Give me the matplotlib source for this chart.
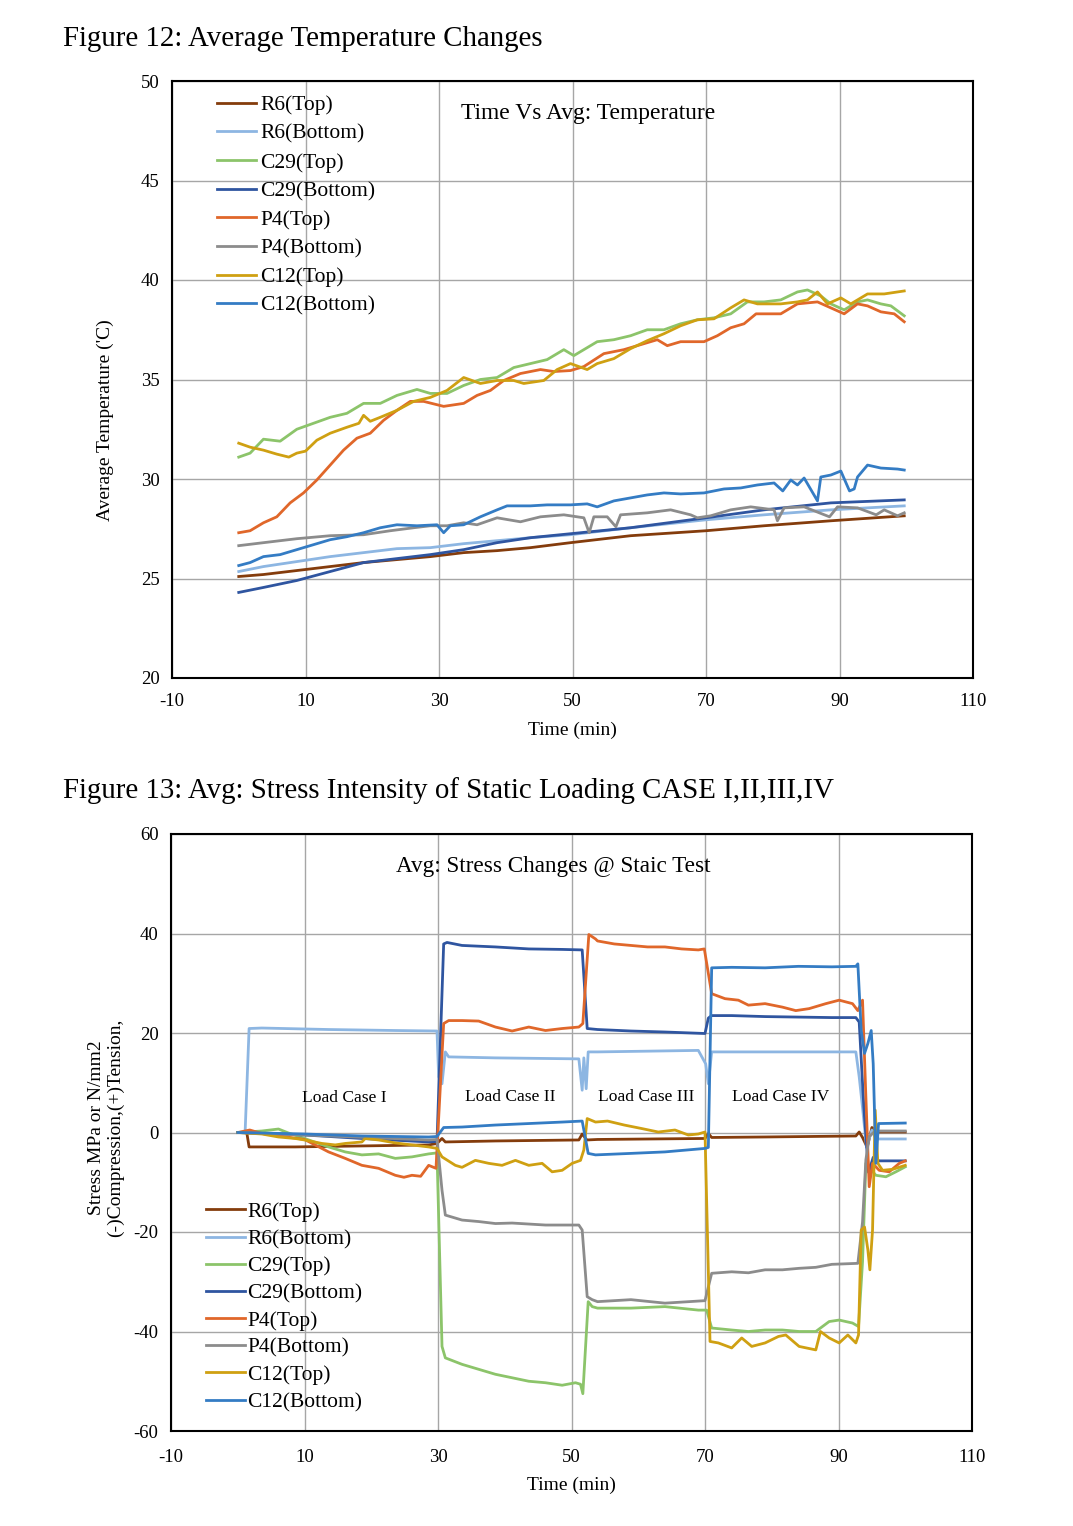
import matplotlib
matplotlib.use("Agg")
import matplotlib.pyplot as plt

plt.rcParams['font.family'] = ['Liberation Serif', 'DejaVu Serif']
plt.rcParams['axes.unicode_minus'] = False

series_names = ["R6(Top)", "R6(Bottom)", "C29(Top)", "C29(Bottom)",
                "P4(Top)", "P4(Bottom)", "C12(Top)", "C12(Bottom)"]
series_colors = ["#843C0C", "#8DB6E2", "#8CC46A", "#2F55A0",
                 "#E0672A", "#8C8C8C", "#CFA012", "#347CC4"]

# ---------------- Figure 12: temperature ----------------
t_r6_top = [0, 3.7, 8.7, 13.7, 18.7, 23.7, 28.7, 33.7, 38.7, 43.7, 49.7, 58.7, 70, 78.7, 88.7, 99.7]
v_r6_top = [25.1, 25.2, 25.4, 25.6, 25.8, 25.95, 26.1, 26.3, 26.4, 26.55, 26.8, 27.15, 27.4, 27.65, 27.9, 28.15]

t_r6_bot = [0, 3.7, 8.7, 13.7, 18.7, 23.7, 28.7, 33.7, 38.7, 43.7, 49.7, 58.7, 70, 78.7, 88.7, 99.7]
v_r6_bot = [25.35, 25.6, 25.85, 26.1, 26.3, 26.5, 26.55, 26.75, 26.9, 27.05, 27.2, 27.55, 27.95, 28.2, 28.45, 28.65]

t_c29_top = [0, 1.7, 3.7, 6.2, 8.7, 11.2, 13.7, 16.2, 18.7, 21.2, 23.7, 26.7, 28.7, 31.2, 33.7,
             36.2, 38.7, 41.2, 43.7, 46.2, 48.7, 50.2, 53.7, 56.2, 58.7, 61.2, 63.7, 66.2, 68.7,
             71.2, 73.7, 76.2, 78.7, 81.2, 83.7, 85.2, 87.2, 88.7, 90.7, 92.7, 94.2, 96.2, 97.7, 99.7]
v_c29_top = [31.1, 31.3, 32.0, 31.9, 32.5, 32.8, 33.1, 33.3, 33.8, 33.8, 34.2, 34.5, 34.3, 34.3, 34.7,
             35.0, 35.1, 35.6, 35.8, 36.0, 36.5, 36.2, 36.9, 37.0, 37.2, 37.5, 37.5, 37.8, 38.0,
             38.1, 38.3, 38.9, 38.9, 39.0, 39.4, 39.5, 39.2, 38.8, 38.5, 38.9, 39.0, 38.8, 38.7, 38.2]

t_c29_bot = [0, 3.7, 8.7, 13.7, 18.7, 23.7, 28.7, 33.7, 38.7, 43.7, 49.7, 58.7, 70, 78.7, 88.7, 99.7]
v_c29_bot = [24.3, 24.55, 24.9, 25.35, 25.8, 26.0, 26.2, 26.45, 26.8, 27.05, 27.25, 27.55, 28.05, 28.45, 28.8, 28.95]

t_p4_top = [0, 1.7, 3.7, 5.7, 7.7, 9.7, 11.7, 13.7, 15.7, 17.7, 19.7, 21.7, 23.7, 25.7, 27.7, 30.7,
            33.7, 35.7, 37.7, 39.7, 42.2, 45.2, 47.2, 49.7, 51.7, 54.7, 57.7, 59.7, 62.7, 64.2, 66.2,
            69.7, 71.7, 73.7, 75.7, 77.5, 81.2, 83.7, 86.7, 88.7, 90.7, 92.7, 94.2, 96.2, 98.2, 99.7]
v_p4_top = [27.3, 27.4, 27.8, 28.1, 28.8, 29.3, 29.95, 30.7, 31.45, 32.05, 32.3, 32.95, 33.45, 33.9, 33.9, 33.65,
            33.8, 34.2, 34.45, 34.95, 35.3, 35.5, 35.4, 35.45, 35.65, 36.3, 36.5, 36.7, 37.0, 36.7, 36.9,
            36.9, 37.2, 37.6, 37.8, 38.3, 38.3, 38.8, 38.9, 38.6, 38.3, 38.8, 38.7, 38.4, 38.3, 37.9]

t_p4_bot = [0, 3.7, 8.7, 13.7, 18.7, 22.7, 26.2, 28.7, 31.2, 33.7, 35.7, 38.7, 42.2, 45.2, 48.7,
            51.7, 52.5, 53.2, 55.2, 56.5, 57.2, 61.2, 64.7, 67.7, 68.7, 70.7, 73.7, 76.7, 80.2, 80.7,
            81.7, 84.7, 88.5, 89.7, 92.7, 95.5, 96.7, 98.7, 99.7]
v_p4_bot = [26.65, 26.8, 27.0, 27.15, 27.2, 27.4, 27.55, 27.65, 27.65, 27.8, 27.7, 28.05, 27.85, 28.1, 28.2,
            28.05, 27.3, 28.1, 28.1, 27.6, 28.2, 28.3, 28.45, 28.2, 28.05, 28.15, 28.45, 28.6, 28.45, 27.9,
            28.55, 28.6, 28.1, 28.6, 28.55, 28.2, 28.45, 28.15, 28.3]

t_c12_top = [0, 1.7, 3.7, 5.7, 7.5, 8.7, 10, 11.7, 13.7, 16.2, 18, 18.7, 19.7, 21.2, 23.7, 26.2, 28.7,
             31.2, 33.7, 36.2, 38.7, 41.2, 42.7, 45.7, 47.7, 49.7, 52.2, 53.7, 56.2, 58.7, 61.2, 63.7,
             66.2, 68.7, 71.2, 73.7, 75.7, 77.7, 81.2, 83.7, 85.2, 86.7, 88.2, 90.2, 91.7, 94.2, 96.7, 99.7]
v_c12_top = [31.8, 31.6, 31.45, 31.25, 31.1, 31.3, 31.4, 31.95, 32.3, 32.6, 32.8, 33.2, 32.9, 33.1, 33.45, 33.9, 34.1,
             34.45, 35.1, 34.8, 34.95, 34.95, 34.8, 34.95, 35.5, 35.8, 35.5, 35.8, 36.05, 36.55, 36.95, 37.3,
             37.7, 38.0, 38.05, 38.6, 39.0, 38.8, 38.8, 38.9, 39.0, 39.4, 38.8, 39.1, 38.8, 39.3, 39.3, 39.45]

t_c12_bot = [0, 1.7, 3.7, 6.2, 8.7, 11.2, 13.7, 16.2, 18.7, 21.2, 23.7, 26.7, 29.7, 30.7, 31.7, 33.7,
             36.2, 38.7, 40.2, 43.7, 46.2, 49.7, 52.2, 53.7, 56.2, 58.7, 61.2, 63.7, 66.2, 69.7, 72.7,
             75.2, 77.7, 80.2, 81.5, 82.7, 83.7, 84.7, 86.7, 87.2, 88.7, 90.2, 91.5, 92.2, 92.7, 94.2,
             96.2, 98.7, 99.7]
v_c12_bot = [25.65, 25.8, 26.1, 26.2, 26.45, 26.7, 26.95, 27.1, 27.3, 27.55, 27.7, 27.65, 27.7, 27.3, 27.65, 27.7,
             28.1, 28.45, 28.65, 28.65, 28.7, 28.7, 28.75, 28.6, 28.9, 29.05, 29.2, 29.3, 29.25, 29.3, 29.5,
             29.55, 29.7, 29.8, 29.4, 29.95, 29.7, 30.05, 28.9, 30.1, 30.2, 30.4, 29.4, 29.5, 30.1, 30.7,
             30.55, 30.5, 30.45]

temp_t = [t_r6_top, t_r6_bot, t_c29_top, t_c29_bot, t_p4_top, t_p4_bot, t_c12_top, t_c12_bot]
temp_v = [v_r6_top, v_r6_bot, v_c29_top, v_c29_bot, v_p4_top, v_p4_bot, v_c12_top, v_c12_bot]

# ---------------- Figure 13: stress ----------------
s_t_r6_top = [0, 1.35, 1.7, 8.6, 18.6, 28.6, 29.85, 30.6, 31.1, 38.6, 51.1, 51.6, 52.3, 53.9, 70, 70.5, 71,
              79, 92.6, 93.1, 93.6, 94.3, 95.0, 96.0, 100]
s_v_r6_top = [0, 0, -2.9, -2.9, -2.7, -2.5, -2.2, -1.2, -1.9, -1.7, -1.5, -0.3, -1.5, -1.4, -1.2, -0.2, -1.0,
              -0.9, -0.7, 0.1, -1.0, -3.0, 1.0, 0.1, 0.1]

s_t_r6_bot = [0, 1.1, 1.7, 3.6, 13.6, 23.6, 29.85, 30.1, 30.6, 31.1, 31.6, 38.6, 51.1, 51.6, 51.85, 52.2,
              52.5, 53.9, 69, 70.1, 70.5, 71, 79, 92.6, 93.1, 93.6, 94.2, 95.0, 95.6, 100]
s_v_r6_bot = [0, 0, 20.9, 21.0, 20.7, 20.5, 20.4, 11.2, 9.8, 16.2, 15.2, 15.0, 14.8, 8.5, 15.0, 8.8,
              16.2, 16.2, 16.5, 13.8, 9.8, 16.2, 16.2, 16.2, 11.2, 5.0, -3.0, 0.5, -1.3, -1.3]

s_t_c29_top = [0, 3.6, 6.1, 7.6, 10, 13.6, 16.1, 18.6, 21.1, 23.6, 26.1, 28.6, 29.85, 30.6, 31.1, 33.6,
               36.1, 38.6, 41.1, 43.6, 46.1, 48.6, 50.6, 51.35, 51.7, 52.5, 53.1, 53.9, 58.9, 64, 69,
               70.25, 71, 74, 76.5, 79, 81.6, 84.1, 86.6, 88.6, 90.1, 92.1, 93, 93.6, 94.1, 95.6, 97.1,
               98.6, 100]
s_v_c29_top = [0, 0.3, 0.7, -0.1, -1.2, -2.9, -3.9, -4.5, -4.3, -5.2, -4.9, -4.3, -4.1, -43, -45.3, -46.6,
               -47.6, -48.6, -49.3, -50.0, -50.3, -50.8, -50.3, -50.6, -52.5, -34.0, -35.0, -35.3, -35.3, -35.0, -35.7,
               -35.7, -39.3, -39.7, -40.0, -39.7, -39.7, -40.0, -40.0, -38.0, -37.7, -38.3, -39.0, -26.0, -6.2, -8.6, -8.9,
               -7.9, -6.9]

s_t_c29_bot = [0, 10, 18.6, 28.6, 29.85, 30.85, 31.35, 33.6, 38.6, 43.6, 48.6, 51.6, 52.35, 53.9, 58.9,
               64, 70, 70.5, 71, 74, 79, 84, 89, 92.6, 93.1, 93.8, 94.5, 95.2, 96.1, 100]
s_v_c29_bot = [0, -0.5, -1.2, -1.9, -1.8, 37.9, 38.2, 37.6, 37.3, 36.9, 36.8, 36.7, 20.9, 20.7, 20.4,
               20.2, 19.9, 23.0, 23.5, 23.5, 23.3, 23.2, 23.1, 23.1, 22.2, 5.0, -8.0, -5.0, -5.7, -5.7]

s_t_p4_top = [0, 1.8, 3.6, 10, 13.6, 16.1, 18.6, 21.1, 23.6, 24.9, 26.1, 27.4, 28.6, 29.7, 30.85, 31.6,
              33.6, 36.1, 38.6, 41.1, 43.6, 46.1, 48.6, 51.1, 51.7, 52.6, 53.6, 53.9, 56.4, 58.9, 61.4,
              64, 66.5, 69, 69.9, 71, 73, 75, 76.5, 79, 81.6, 83.6, 85.6, 88.1, 90.1, 92.1, 92.9, 93.6,
              94.1, 94.6, 95.1, 96.1, 97.6, 99.1, 100]
s_v_p4_top = [0, 0.5, -0.2, -1.4, -3.9, -5.2, -6.6, -7.2, -8.6, -9.0, -8.6, -8.8, -6.6, -7.2, 21.9, 22.5,
              22.5, 22.4, 21.2, 20.4, 21.2, 20.5, 20.9, 21.2, 21.9, 39.8, 38.9, 38.5, 37.9, 37.6, 37.3,
              37.3, 36.9, 36.7, 36.9, 27.9, 26.9, 26.6, 25.6, 25.9, 25.2, 24.5, 24.9, 25.9, 26.6, 25.9, 24.5, 26.6,
              7.2, -10.9, -6.2, -7.6, -7.9, -6.2, -5.7]

s_t_p4_bot = [0, 10, 28.6, 29.85, 30.6, 31.1, 33.6, 36.1, 38.6, 41.1, 43.6, 46.1, 48.6, 51.1, 51.6, 52.35,
              53.1, 53.9, 58.9, 64, 70, 71, 74, 76.5, 79, 81.6, 84.1, 86.6, 89, 92.9, 93.6, 94.1, 94.6,
              95.5, 100]
s_v_p4_bot = [0, -0.5, -1.5, -1.4, -11.6, -16.6, -17.6, -17.9, -18.3, -18.2, -18.4, -18.6, -18.6, -18.6, -19.6, -33.0,
              -33.6, -34.0, -33.6, -34.3, -33.8, -28.3, -28.0, -28.2, -27.6, -27.6, -27.3, -27.1, -26.5, -26.3, -18.0, -5.5, -0.8,
              0.3, 0.3]

s_t_c12_top = [0, 3.6, 6.1, 8.6, 10, 12.6, 14.6, 16.1, 18.6, 19.1, 21.1, 23.6, 26.1, 28.6, 29.85, 30.6,
               32.6, 33.6, 35.6, 37.6, 39.6, 41.6, 43.6, 45.6, 47.1, 48.6, 50.1, 51.35, 51.85, 52.35, 53.6,
               55.4, 57.9, 60.5, 63, 65.5, 67.5, 69, 70, 70.75, 72, 74, 75.5, 77, 79, 81, 82.1, 84.1, 86.6,
               87.3, 88.6, 90.1, 91.4, 92.6, 93, 93.4, 93.9, 94.4, 94.7, 95.1, 95.5, 95.9, 96.6, 98.1, 100]
s_v_c12_top = [0, -0.3, -0.9, -1.2, -1.5, -2.2, -2.5, -2.2, -1.9, -1.2, -1.5, -2.1, -2.5, -2.9, -3.2, -4.9,
               -6.6, -7.0, -5.6, -6.2, -6.6, -5.6, -6.6, -6.2, -7.9, -7.6, -6.2, -5.6, -3.5, 2.8, 2.1,
               2.3, 1.5, 0.8, 0.1, 0.5, -0.5, -0.3, 0.1, -42.0, -42.3, -43.3, -41.3, -43.0, -42.3, -41.0, -40.7, -43.0, -43.7,
               -40.0, -41.3, -42.3, -40.7, -42.3, -40.7, -19.6, -19.0, -23.6, -27.6, -19.6, 4.5, -6.2, -7.6, -7.4, -6.6]

s_t_c12_bot = [0, 10, 18.6, 28.6, 29.85, 30.85, 33.6, 38.6, 43.6, 48.6, 51.6, 52.5, 53.6, 58.9, 64, 70,
               70.5, 71, 74, 79, 84, 89, 92.6, 92.9, 93.4, 93.9, 94.4, 94.9, 95.2, 95.6, 96.0, 100]
s_v_c12_bot = [0, -0.3, -0.7, -0.9, -0.8, 1.0, 1.1, 1.5, 1.8, 2.1, 2.3, -4.2, -4.5, -4.2, -3.9, -3.2,
               -3.0, 33.1, 33.2, 33.1, 33.4, 33.3, 33.4, 33.9, 20.5, 15.9, 17.9, 20.5, 13.8, -6.2, 1.8, 1.9]

stress_t = [s_t_r6_top, s_t_r6_bot, s_t_c29_top, s_t_c29_bot, s_t_p4_top, s_t_p4_bot, s_t_c12_top, s_t_c12_bot]
stress_v = [s_v_r6_top, s_v_r6_bot, s_v_c29_top, s_v_c29_bot, s_v_p4_top, s_v_p4_bot, s_v_c12_top, s_v_c12_bot]

x_ticks = [-10, 10, 30, 50, 70, 90, 110]
temp_ticks = [20, 25, 30, 35, 40, 45, 50]
stress_ticks = [-60, -40, -20, 0, 20, 40, 60]
load_case_labels = ["Load Case I", "Load Case II", "Load Case III", "Load Case IV"]
load_case_x = [16.0, 40.8, 61.2, 81.3]
load_case_y = [7.0, 7.2, 7.2, 7.2]

W, H = 1073, 1526
fig = plt.figure(figsize=(W / 100, H / 100), dpi=100)
fig.patch.set_facecolor("white")


def style_axes(ax, yticks, xpad):
    ax.set_xlim(-10, 110)
    ax.set_xticks(x_ticks)
    ax.set_ylim(yticks[0], yticks[-1])
    ax.set_yticks(yticks)
    ax.grid(True, color="#A6A6A6", linewidth=1.0)
    ax.set_axisbelow(True)
    ax.tick_params(axis="y", length=0, labelsize=13.5, pad=9)
    ax.tick_params(axis="x", length=0, labelsize=13.5, pad=xpad)
    for s in ax.spines.values():
        s.set_linewidth(1.5)
        s.set_color("black")
    ax.set_xlabel("Time (min)", fontsize=14, labelpad=8)


ax1 = fig.add_axes([172 / W, 1 - 678 / H, (973 - 172) / W, (678 - 81) / H])
style_axes(ax1, temp_ticks, 11)
for tt, vv, name, col in zip(temp_t, temp_v, series_names, series_colors):
    ax1.plot(tt, vv, color=col, lw=2.0, label=name)
ax1.set_ylabel("Average Temperature ('C)", fontsize=14)
ax1.yaxis.set_label_coords(-0.073, 0.432)
ax1.text(0.519, 0.946, "Time Vs Avg: Temperature", transform=ax1.transAxes,
         ha="center", va="center", fontsize=16.9)
ax1.legend(loc="upper left", bbox_to_anchor=(0.04, 0.998), frameon=False, fontsize=15.5,
           handlelength=1.8, handletextpad=0.22, labelspacing=0.40, borderaxespad=0.2)

ax2 = fig.add_axes([171 / W, 1 - 1431 / H, (972 - 171) / W, (1431 - 834) / H])
style_axes(ax2, stress_ticks, 13)
for tt, vv, name, col in zip(stress_t, stress_v, series_names, series_colors):
    ax2.plot(tt, vv, color=col, lw=2.0, label=name)
ax2.set_ylabel("Stress MPa or N/mm2\n(-)Compression,(+)Tension,", fontsize=14,
               linespacing=1.2)
ax2.yaxis.set_label_coords(-0.058, 0.508)
ax2.text(0.477, 0.946, "Avg: Stress Changes @ Staic Test", transform=ax2.transAxes,
         ha="center", va="center", fontsize=16.7)
for lbl, lx, ly in zip(load_case_labels, load_case_x, load_case_y):
    ax2.text(lx, ly, lbl, ha="center", va="center", fontsize=12.6)
ax2.legend(loc="lower left", bbox_to_anchor=(0.027, 0.01), frameon=False, fontsize=15.5,
           handlelength=1.85, handletextpad=0.1, labelspacing=0.33, borderaxespad=0.2)

fig.text(63 / W, 1 - 39 / H, "Figure 12: Average Temperature Changes", fontsize=20.8,
         ha="left", va="center")
fig.text(63 / W, 1 - 791 / H, "Figure 13: Avg: Stress Intensity of Static Loading CASE I,II,III,IV",
         fontsize=20.8, ha="left", va="center")

fig.savefig("out.png", dpi=100, facecolor="white")
